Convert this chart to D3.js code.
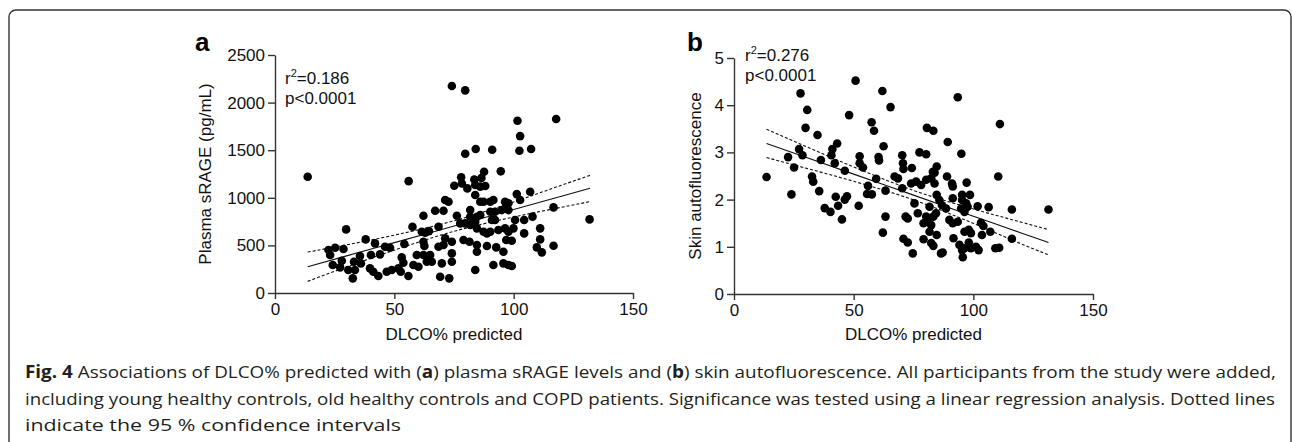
<!DOCTYPE html>
<html>
<head>
<meta charset="utf-8">
<script src="https://cdn.jsdelivr.net/npm/d3@7"></script>
<style>
  body { margin: 0; background: #fff; }
  svg { display: block; }
  .axis text { font-family: "Liberation Sans", Arial, sans-serif; font-size: 17px; fill: #111; }
  .axis path, .axis line { stroke: #333; stroke-width: 1.4px; }
  .lbl { font-family: "Liberation Sans", Arial, sans-serif; font-size: 17px; fill: #111; }
  .cap { font-family: "Open Sans", sans-serif; font-size: 17px; fill: #231f20; }
</style>
</head>
<body>
<svg width="1292" height="442"></svg>
<script>
// panel a: DLCO% predicted vs plasma sRAGE (pg/mL)
const aX = [13.7, 56, 74.1, 79.7, 101.6, 117.8, 102.7, 79.7, 84.1, 91, 102.4, 107.3, 78, 83.5, 86.5, 87.6, 94.6,
  29.8, 22.4, 23.1, 25.2, 24.2, 28.7, 28, 27.3, 30.7, 32.6, 33.5, 35.6, 36, 33.1, 38, 40.2, 41.9, 44, 46.1, 48.2,
  39.8, 41.2, 43.3, 46.8, 48.9, 51.7, 52.7, 53.8, 54.2, 55.9, 57.6, 58, 60.1, 62.2, 62.9, 64.5, 67.1, 62.2, 62.6,
  59.4, 62.2, 65, 63.6, 65.7, 68.5, 68.5, 69.2,
  75.1, 78.3, 80.6, 83.9, 86, 88.1, 101.3, 106.9, 102.7, 71.3, 72.7, 83.9, 86, 87.4, 90.2, 91.5, 96.4, 97.8, 96.9,
  70.6, 76.2, 81.8, 81.8, 84.6, 86, 90.2, 92.2, 90.9, 92.2, 95, 97.8, 100.6, 104.4, 107.9, 116.7, 131.8, 61.5,
  77.6, 79.7, 81.8, 83.9, 84.6, 87.4, 88.8, 90.2, 93.6, 96.4, 97.8, 99.9, 111.1, 104.4, 70.6, 71.3, 74.1, 79,
  81.5, 84.6, 84.6, 88.8, 92.7, 95.7, 96.9, 99.2, 111.1, 109.7, 111.8, 116.7, 53.1, 64.3, 69.9, 74.1, 74.1, 73,
  83.9, 91.5, 95.7, 97.8, 99.2];
const aY = [1221, 1175, 2174, 2128, 1809, 1827, 1648, 1463, 1512, 1505, 1494, 1512, 1215, 1192, 1208, 1274, 1278,
  668, 451, 399, 476, 294, 462, 339, 269, 241, 154, 241, 388, 311, 329, 563, 399, 521, 406, 486, 476,
  259, 224, 178, 224, 241, 259, 224, 318, 514, 178, 696, 294, 276, 812, 633, 650, 864, 539, 493,
  399, 399, 399, 329, 329, 696, 486, 171,
  1127, 1151, 1099, 1134, 1117, 1124, 1039, 1064, 977, 977, 959, 1029, 959, 959, 959, 977, 959, 942, 889,
  864, 812, 871, 801, 801, 819, 854, 854, 767, 767, 871, 871, 767, 767, 802, 899, 773, 644,
  731, 731, 714, 749, 679, 644, 626, 644, 661, 679, 644, 679, 679, 626, 504, 574, 539, 556,
  539, 504, 434, 494, 479, 434, 556, 549, 563, 479, 427, 497, 374, 388, 311, 416, 329, 154,
  241, 294, 311, 294, 283];

// panel b: DLCO% predicted vs skin autofluorescence
const bX = [27.8, 30.6, 29.9, 34.9, 50.8, 48.1, 43.1, 41.1, 40.7, 42.1, 36.3, 27.2, 28.6, 22.6, 25.1, 13.6, 32.6, 46.3, 52.5,
  62, 65.4, 57.5, 58.5, 62.5, 93.5, 111.1, 80.6, 83.3, 89.3, 95, 77.5, 80.3, 52.5, 53.9, 60.4, 60.6, 70.3, 70.6,
  70.8, 74.3, 84.7, 83.8, 89, 110.4, 59.4, 67.1, 68.5, 82.4,
  24, 33.1, 35.6, 37.9, 40.3, 42.5, 43.5, 45.1, 46.3, 47.2, 52.1,
  56, 55.6, 57.6, 63.3, 62.2, 63.3, 70.3, 70.8, 72.6, 74.7, 71.7, 72.6, 74, 76.1, 78.2, 80.3, 75.4, 76.8, 79.2,
  79.2, 80.3, 81, 82.4, 83.3, 84.4, 83.1, 83.8, 81.7, 84.7, 85.8, 86.9, 88.6, 82.4, 83.3, 86.5, 87.2, 84.7, 81.7,
  91.1, 91.4, 91.4, 90, 91.4, 93.5, 91.7, 95.3, 98.6, 95.3, 97, 97.2, 94.9, 96.3, 97.6, 96.3, 98.1, 99, 94.2,
  95.3, 96.3, 95.6, 98.1, 99, 101.1, 102.2, 101.8, 103.2, 104.2, 103.6, 107.1, 106.4, 109.2, 110.8, 116.1,
  116.1, 131.4];
const bY = [4.25, 3.90, 3.52, 3.37, 4.52, 3.79, 3.19, 3.07, 2.94, 2.77, 2.84, 3.07, 2.94, 2.90, 2.68, 2.48, 2.49, 2.61, 2.92,
  4.30, 3.96, 3.64, 3.46, 3.13, 4.17, 3.60, 3.52, 3.46, 3.22, 2.97, 3.00, 2.96, 2.77, 2.68, 2.90, 2.83, 2.94, 2.77,
  2.65, 2.67, 2.70, 2.57, 2.49, 2.49, 2.44, 2.49, 2.45, 2.45,
  2.11, 2.38, 2.18, 1.82, 1.74, 2.06, 1.87, 1.58, 2.00, 2.07, 1.87,
  2.29, 2.12, 2.11, 1.64, 1.30, 2.19, 2.24, 1.17, 1.09, 0.86, 1.64, 1.60, 2.34, 2.38, 2.31, 2.42, 1.92, 1.71, 1.16,
  1.50, 1.64, 1.53, 1.46, 1.64, 1.71, 2.59, 2.34, 1.85, 2.10, 1.99, 1.88, 1.81, 1.08, 1.02, 0.86, 0.88, 1.25, 1.32,
  2.34, 2.28, 2.03, 1.57, 1.50, 1.53, 1.18, 2.10, 2.10, 1.99, 1.92, 2.36, 1.81, 1.74, 1.85, 1.32, 1.36, 1.29, 1.04,
  0.93, 0.97, 0.78, 1.09, 0.97, 1.00, 0.93, 1.86, 1.51, 1.44, 1.25, 1.32, 1.84, 0.97, 0.98, 1.79,
  1.17, 1.79];

// regression line and 95% CI
const aFitX = [13.7, 30, 50, 75, 100, 120, 132];
const aFit = [276, 390, 529, 703, 877, 1016, 1100];
const aUpper = [430, 506, 608, 758, 956, 1132, 1236];
const aLower = [122, 274, 450, 648, 798, 900, 960];
const bFitX = [13.6, 30, 50, 75, 100, 120, 131.4];
const bFit = [3.19, 2.897, 2.54, 2.095, 1.649, 1.292, 1.09];
const bUpper = [3.49, 3.127, 2.692, 2.195, 1.801, 1.522, 1.365];
const bLower = [2.89, 2.667, 2.388, 1.995, 1.497, 1.062, 0.83];

const xTicks = [0, 50, 100, 150];
const aYTicks = [0, 500, 1000, 1500, 2000, 2500];
const bYTicks = [0, 1, 2, 3, 4, 5];

const svg = d3.select("svg");

// frame
svg.append("rect")
  .attr("x", 9).attr("y", 10).attr("width", 1282).attr("height", 520).attr("rx", 7)
  .attr("fill", "none").attr("stroke", "#333").attr("stroke-width", 1.4);

function panel(o) {
  const x = d3.scaleLinear().domain([0, 150]).range(o.xr);
  const y = d3.scaleLinear().domain(o.yd).range(o.yr);
  const g = svg.append("g");

  // fit + CI
  const line = d3.line().x(d => x(d[0])).y(d => y(d[1])).curve(d3.curveMonotoneX);
  const pairs = arr => o.fitX.map((v, i) => [v, arr[i]]);
  g.append("path").attr("d", line(pairs(o.fit)))
    .attr("fill", "none").attr("stroke", "#111").attr("stroke-width", 1.1);
  [o.upper, o.lower].forEach(arr => {
    g.append("path").attr("d", line(pairs(arr)))
      .attr("fill", "none").attr("stroke", "#111").attr("stroke-width", 1.1)
      .attr("stroke-dasharray", "3,2");
  });

  g.selectAll(".dot")
    .data(o.xs.map((v, i) => [v, o.ys[i]]))
    .enter()
    .append("circle")
    .attr("class", "dot")
    .attr("cx", d => x(d[0]))
    .attr("cy", d => y(d[1]))
    .attr("r", 4.3)
    .attr("fill", "#000");

  g.append("g")
    .attr("class", "axis")
    .attr("transform", "translate(0," + o.yr[0] + ")")
    .call(d3.axisBottom(x).tickValues(xTicks).tickFormat(d3.format("d"))
      .tickSize(6).tickSizeOuter(0).tickPadding(4));

  g.append("g")
    .attr("class", "axis")
    .attr("transform", "translate(" + o.xr[0] + ",0)")
    .call(d3.axisLeft(y).tickValues(o.yTicks).tickFormat(d3.format("d"))
      .tickSize(7).tickSizeOuter(0).tickPadding(3));

  g.append("text").attr("class", "lbl")
    .attr("x", (o.xr[0] + o.xr[1]) / 2).attr("y", 340)
    .attr("text-anchor", "middle").text("DLCO% predicted");

  g.append("text").attr("class", "lbl")
    .attr("transform", "translate(" + o.ylabX + "," + ((o.yr[0] + o.yr[1]) / 2) + ") rotate(-90)")
    .attr("text-anchor", "middle").text(o.ylab);

  g.append("text")
    .attr("x", o.letterX).attr("y", 51)
    .attr("font-family", "Liberation Sans, Arial, sans-serif")
    .attr("font-size", 26).attr("font-weight", "bold").attr("fill", "#000")
    .text(o.letter);

  const r = g.append("text").attr("class", "lbl").attr("x", o.statX).attr("y", o.statY);
  r.append("tspan").text("r");
  r.append("tspan").attr("font-size", 11).attr("dy", -7).text("2");
  r.append("tspan").attr("dy", 7).text("=" + o.r2);
  g.append("text").attr("class", "lbl")
    .attr("x", o.statX).attr("y", o.statY + 20).text("p<0.0001");
}

panel({
  xr: [275, 633], yd: [0, 2500], yr: [293, 55], yTicks: aYTicks,
  xs: aX, ys: aY, fitX: aFitX, fit: aFit, upper: aUpper, lower: aLower,
  ylab: "Plasma sRAGE (pg/mL)", ylabX: 211, letter: "a", letterX: 195,
  statX: 285, statY: 84, r2: "0.186"
});

panel({
  xr: [734, 1093], yd: [0, 5], yr: [294, 58], yTicks: bYTicks,
  xs: bX, ys: bY, fitX: bFitX, fit: bFit, upper: bUpper, lower: bLower,
  ylab: "Skin autofluorescence", ylabX: 701, letter: "b", letterX: 687,
  statX: 745, statY: 61, r2: "0.276"
});

// caption
const c1 = svg.append("text").attr("class", "cap").attr("x", 25).attr("y", 378)
  .attr("textLength", 1251).attr("lengthAdjust", "spacingAndGlyphs");
c1.append("tspan").attr("font-weight", "bold").text("Fig. 4");
c1.append("tspan").text(" Associations of DLCO% predicted with (");
c1.append("tspan").attr("font-weight", "bold").text("a");
c1.append("tspan").text(") plasma sRAGE levels and (");
c1.append("tspan").attr("font-weight", "bold").text("b");
c1.append("tspan").text(") skin autofluorescence. All participants from the study were added,");

svg.append("text").attr("class", "cap").attr("x", 25).attr("y", 405)
  .attr("textLength", 1250).attr("lengthAdjust", "spacingAndGlyphs")
  .text("including young healthy controls, old healthy controls and COPD patients. Significance was tested using a linear regression analysis. Dotted lines");

svg.append("text").attr("class", "cap").attr("x", 25).attr("y", 431)
  .attr("textLength", 376).attr("lengthAdjust", "spacingAndGlyphs")
  .text("indicate the 95 % confidence intervals");
</script>
</body>
</html>
